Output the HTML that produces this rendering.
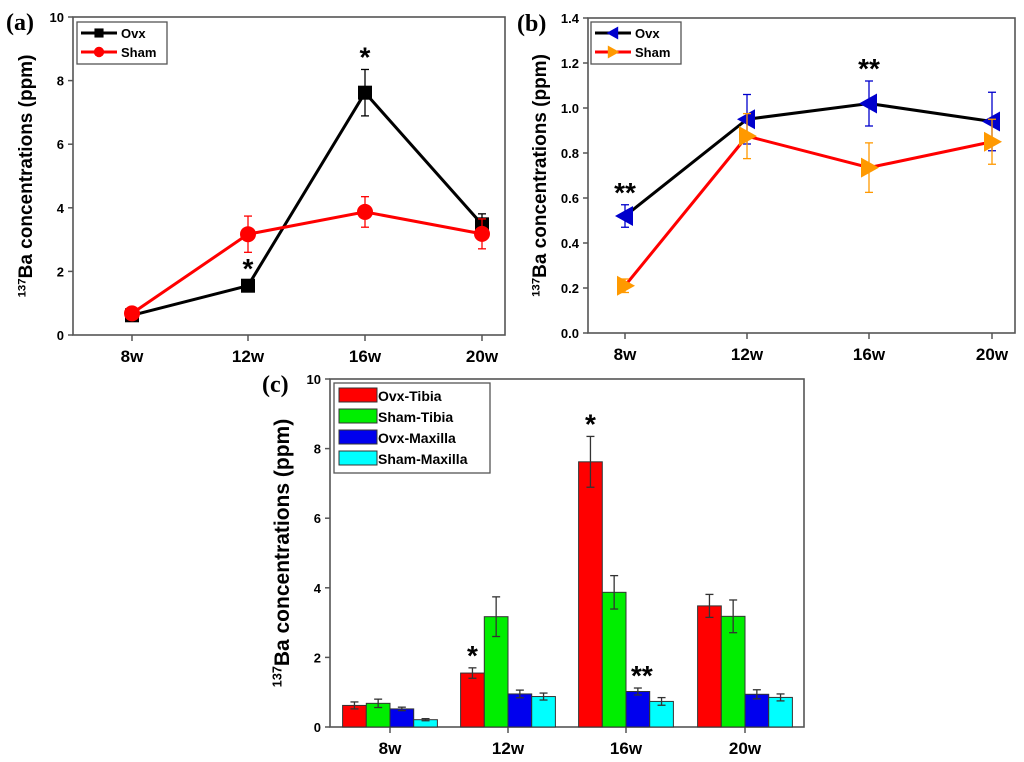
<!DOCTYPE html>
<html><head><meta charset="utf-8"><style>
html,body{margin:0;padding:0;background:#fff;}
svg{display:block;font-family:"Liberation Sans",Arial,sans-serif;}
</style></head><body>
<svg id="fig" width="1024" height="762" viewBox="0 0 1024 762"></svg>
<script>
const categories=['8w','12w','16w','20w'];
const aOvx=[0.62,1.55,7.62,3.48];
const aOvxErr=[0.1,0.15,0.73,0.33];
const aSham=[0.68,3.17,3.87,3.18];
const aShamErr=[0.12,0.57,0.48,0.47];
const bOvx=[0.52,0.95,1.02,0.94];
const bOvxErr=[0.05,0.11,0.1,0.13];
const bSham=[0.21,0.875,0.735,0.85];
const bShamErr=[0.03,0.1,0.11,0.1];
const aTicks=[0,2,4,6,8,10];
const bTicks=['0.0','0.2','0.4','0.6','0.8','1.0','1.2','1.4'];
const cTicks=[0,2,4,6,8,10];
const cSeriesNames=['Ovx-Tibia','Sham-Tibia','Ovx-Maxilla','Sham-Maxilla'];
const cValues=[aOvx,aSham,bOvx,bSham];
const cErrs=[aOvxErr,aShamErr,bOvxErr,bShamErr];
const aStars=['','*','*',''];
const bStars=['**','','**',''];
const cStars=[['','*','*',''],['','','',''],['','','**',''],['','','','']];

const svg=document.getElementById('fig');
const NS='http://www.w3.org/2000/svg';
function mk(tag,attrs,parent,name,text){
  const e=document.createElementNS(NS,tag);
  for(const k in attrs)e.setAttribute(k,attrs[k]);
  
  
  if(text!==undefined)e.textContent=text;
  (parent||svg).appendChild(e);return e;
}
function panel(cfg){
  const g=mk('g',{},svg,cfg.id);
  const {L,R,T,B,ymax,xs}=cfg;
  const y=v=>B-(v/ymax)*(B-T);
  mk('rect',{x:L,y:T,width:R-L,height:B-T,fill:'none',stroke:'#555','stroke-width':1.6},g,'plot-frame');
  cfg.ticks.forEach(t=>{
    const v=parseFloat(t),yy=y(v);
    mk('line',{x1:L-5,x2:L,y1:yy,y2:yy,stroke:'#555','stroke-width':1.5},g,'y-tick');
    mk('text',{x:L-9,y:yy+5,'text-anchor':'end','font-size':13,'font-weight':'bold'},g,'y-tick-label',t);
  });
  categories.forEach((c,i)=>{
    mk('line',{x1:xs[i],x2:xs[i],y1:B,y2:B+6,stroke:'#555','stroke-width':1.5},g,'x-tick');
    mk('text',{x:xs[i],y:B+27,'text-anchor':'middle','font-size':17,'font-weight':'bold'},g,'x-tick-label',c);
  });
  const yt=mk('text',{transform:`translate(${cfg.ytx},${(T+B)/2+cfg.ytdy}) rotate(-90)`,'text-anchor':'middle','font-size':cfg.yfs,'font-weight':'bold'},g,'y-axis-title');
  const s=document.createElementNS(NS,'tspan');s.setAttribute('font-size',cfg.yfs*0.6);s.setAttribute('dy',-cfg.yfs*0.35);s.textContent='137';
  
  yt.appendChild(s);
  const s2=document.createElementNS(NS,'tspan');s2.setAttribute('dy',cfg.yfs*0.35);s2.textContent='Ba concentrations (ppm)';
  
  yt.appendChild(s2);
  mk('text',{x:cfg.labx,y:T+13,'font-family':'Liberation Serif,serif','font-size':24,'font-weight':'bold'},g,'panel-label',cfg.label);
  return {g,y};
}
function errbar(g,x,y0,y1,col,w){
  mk('line',{x1:x,x2:x,y1:y0,y2:y1,stroke:col,'stroke-width':1.3},g,'error-bar');
  mk('line',{x1:x-w,x2:x+w,y1:y0,y2:y0,stroke:col,'stroke-width':1.3},g,'error-cap');
  mk('line',{x1:x-w,x2:x+w,y1:y1,y2:y1,stroke:col,'stroke-width':1.3},g,'error-cap');
}
function marker(g,type,x,yy,fill,k){
  k=k||1;
  if(type==='sq')mk('rect',{x:x-7*k,y:yy-7*k,width:14*k,height:14*k,fill:fill},g,'marker-square');
  else if(type==='ci')mk('circle',{cx:x,cy:yy,r:8*k,fill:fill},g,'marker-circle');
  else if(type==='lt')mk('polygon',{points:`${x-10*k},${yy} ${x+8*k},${yy-10*k} ${x+8*k},${yy+10*k}`,fill:fill},g,'marker-left-triangle');
  else mk('polygon',{points:`${x+10*k},${yy} ${x-8*k},${yy-10*k} ${x-8*k},${yy+10*k}`,fill:fill},g,'marker-right-triangle');
}
function series(p,xs,vals,errs,line,mcol,ecol,type,name){
  const g=mk('g',{},p.g,name);
  mk('polyline',{points:vals.map((v,i)=>xs[i]+','+p.y(v)).join(' '),fill:'none',stroke:line,'stroke-width':3},g,'series-line');
  vals.forEach((v,i)=>{errbar(g,xs[i],p.y(v+errs[i]),p.y(v-errs[i]),ecol,4);});
  vals.forEach((v,i)=>marker(g,type,xs[i],p.y(v),mcol));
}
function stars(p,xs,vals,errs,st,dx){
  st.forEach((s,i)=>{if(s)mk('text',{x:xs[i]+(dx||0),y:p.y(vals[i]+errs[i])-3,'text-anchor':'middle','font-size':28,'font-weight':'bold'},p.g,'significance-marker',s);});
}
function legend(g,x,y,w,h,items){
  mk('rect',{x:x,y:y,width:w,height:h,fill:'#fff',stroke:'#555','stroke-width':1.3},g,'legend-box');
  items.forEach((it,i)=>{
    const yy=y+11+i*19;
    mk('line',{x1:x+4,x2:x+40,y1:yy,y2:yy,stroke:it.line,'stroke-width':3},g,'legend-line');
    marker(g,it.type,x+22,yy,it.m,0.65);
    mk('text',{x:x+44,y:yy+5,'font-size':13,'font-weight':'bold'},g,'legend-label',it.t);
  });
}
// panel a
const ax=[132,248,365,482];
const pa=panel({id:'panel-a',L:73,R:505,T:17,B:335,ymax:10,xs:ax,ticks:aTicks,ytx:32,ytdy:0,yfs:19,labx:6,label:'(a)'});
series(pa,ax,aOvx,aOvxErr,'#000','#000','#000','sq','series-ovx');
series(pa,ax,aSham,aShamErr,'#f00','#f00','#f00','ci','series-sham');
stars(pa,ax,aOvx,aOvxErr,aStars);
legend(pa.g,77,22,90,42,[{t:'Ovx',line:'#000',m:'#000',type:'sq'},{t:'Sham',line:'#f00',m:'#f00',type:'ci'}]);
// panel b
const bx=[625,747,869,992];
const pb=panel({id:'panel-b',L:588,R:1015,T:18,B:333,ymax:1.4,xs:bx,ticks:bTicks,ytx:546,ytdy:0,yfs:19,labx:517,label:'(b)'});
series(pb,bx,bOvx,bOvxErr,'#000','#00c','#00c','lt','series-ovx');
series(pb,bx,bSham,bShamErr,'#f00','#f90','#f90','rt','series-sham');
stars(pb,bx,bOvx,bOvxErr,bStars);
legend(pb.g,591,22,90,42,[{t:'Ovx',line:'#000',m:'#00c',type:'lt'},{t:'Sham',line:'#f00',m:'#f90',type:'rt'}]);
// panel c
const cx=[390,508,626,745];
const pc=panel({id:'panel-c',L:330,R:804,T:379,B:727,ymax:10,xs:cx,ticks:cTicks,ytx:289,ytdy:0,yfs:21,labx:262,label:'(c)'});
const cols=['#f00','#0e0','#00e','#0ff'];const bw=23.7;
cValues.forEach((vals,s)=>{
  const g=mk('g',{},pc.g,'bars-'+cSeriesNames[s].toLowerCase());
  vals.forEach((v,i)=>{
    const x0=cx[i]-2*bw+s*bw;
    mk('rect',{x:x0,y:pc.y(v),width:bw,height:727-pc.y(v),fill:cols[s],stroke:'#333','stroke-width':1},g,'bar');
    errbar(g,x0+bw/2,pc.y(v+cErrs[s][i]),pc.y(v-cErrs[s][i]),'#333',4);
  });
  stars(pc,cx.map(x=>x-2*bw+s*bw+bw/2),vals,cErrs[s],cStars[s],s===2?4:0);
});
const lg=pc.g;
mk('rect',{x:334,y:383,width:156,height:90,fill:'#fff',stroke:'#555','stroke-width':1.3},lg,'legend-box');
cSeriesNames.forEach((n,i)=>{
  const yy=388+i*21;
  mk('rect',{x:339,y:yy,width:38,height:14,fill:cols[i],stroke:'#333','stroke-width':1},lg,'legend-swatch');
  mk('text',{x:378,y:yy+13,'font-size':14,'font-weight':'bold'},lg,'legend-label',n);
});
</script>
</body></html>
